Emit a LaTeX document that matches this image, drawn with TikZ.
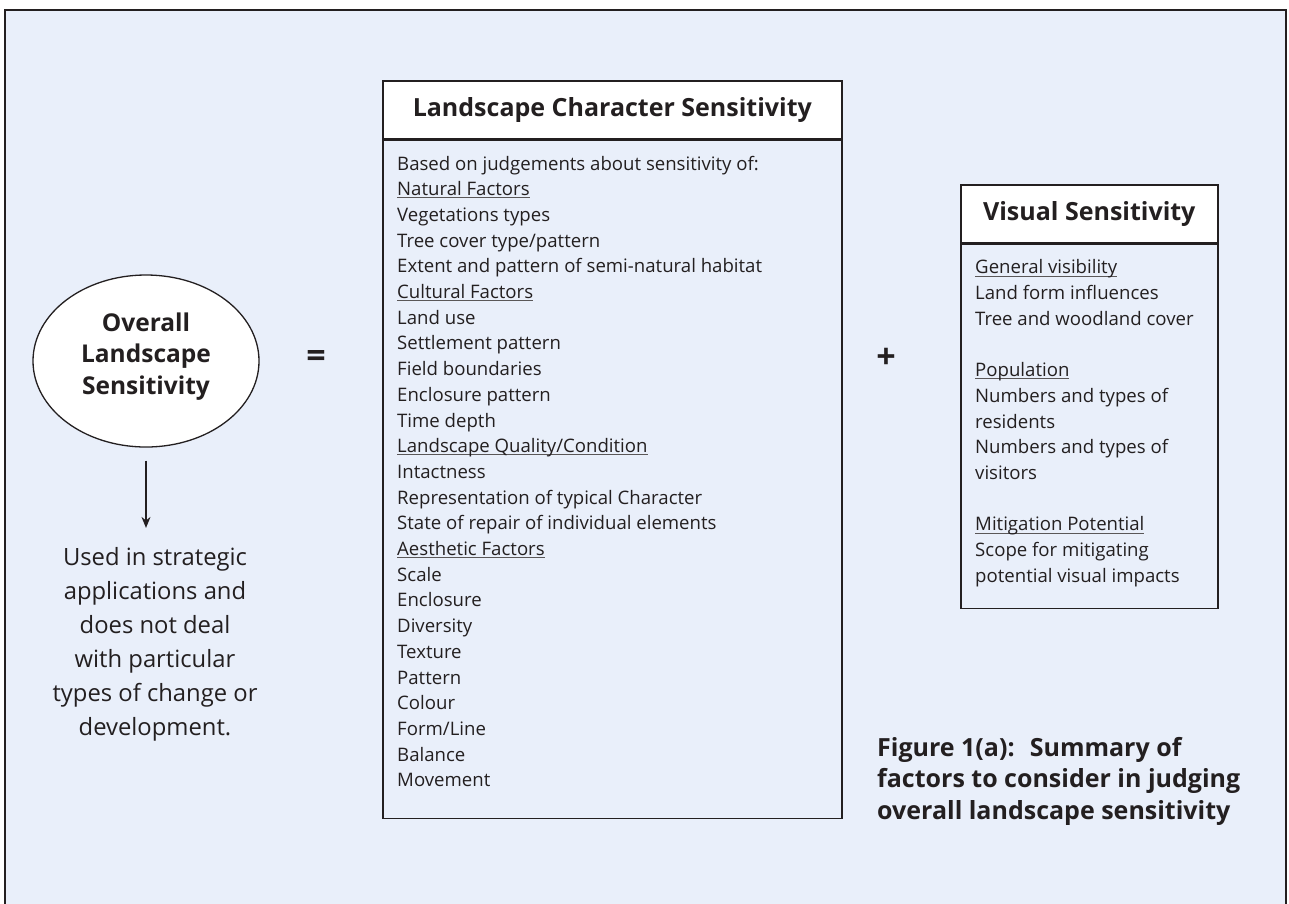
\documentclass[tikz,border=0pt]{standalone}
\usepackage{fontspec}
\setmainfont{Open Sans}
\usetikzlibrary{positioning,shapes.geometric,arrows.meta}

\definecolor{panelblue}{HTML}{E9EFFA}
\definecolor{ink}{HTML}{231F20}
% underlined factor heading, rule at a fixed depth
\newcommand{\factorhead}[1]{\setbox0\hbox{#1}\rlap{\textcolor{ink!75}{\rule[-2.6pt]{\wd0}{0.9pt}}}\box0}

\begin{document}
\begin{tikzpicture}[x=1pt,y=-1pt,
    headbox/.style={draw=ink, line width=1.6pt, fill=white, text=ink, inner sep=0pt,
        font=\bfseries\fontsize{25}{28}\selectfont},
    bodybox/.style={draw=ink, line width=1.6pt, fill=panelblue, inner sep=0pt},
    listtext/.style={font=\fontsize{18.6}{25.7}\selectfont, text=ink, align=left,
        anchor=north west, inner sep=0pt},
    ovalnode/.style={ellipse, draw=ink, line width=1.3pt, fill=white, text=ink,
        minimum width=226pt, minimum height=172pt, align=center, inner sep=0pt,
        font=\bfseries\fontsize{24.5}{31.5}\selectfont},
    signnode/.style={text=ink, font=\bfseries\fontsize{34}{36}\selectfont, inner sep=0pt},
    pointer/.style={-{Stealth[length=11pt,width=9pt]}, line width=1.3pt, draw=ink}]

\useasboundingbox (0,0) rectangle (1289,903);
\draw[draw=ink, line width=2pt, fill=panelblue] (5,10) rectangle (1286,940);

% left: overall sensitivity
\node[ovalnode] (overall) at (146,361) {Overall\\Landscape\\Sensitivity\\[-16pt]\mbox{}};
\node[text=ink, align=center, inner sep=0pt, font=\fontsize{23.8}{34}\selectfont]
    (usage) at (155,644) {Used in strategic\\applications and\\does not deal\\with particular\\types of change or\\development.};
\draw[pointer, shorten <=13pt, shorten >=19pt] (overall.south) -- (overall.south |- usage.north);

\node[signnode] (equals) at (316,359) {=};
\node[signnode] (plus) at (886,358) {+};

% landscape character sensitivity
\node[headbox, minimum width=459pt, minimum height=58pt, anchor=north west]
    (lcshead) at (382,80) {Landscape Character Sensitivity};
\node[bodybox, minimum width=459pt, minimum height=678pt, below=0pt of lcshead] (lcsbody) {};
\node[listtext] (lcslist) at ([xshift=15pt,yshift=-16pt]lcsbody.north west) {%
    Based on judgements about sensitivity of:\\
    \factorhead{Natural Factors}\\
    Vegetations types\\
    Tree cover type/pattern\\
    Extent and pattern of semi-natural habitat\\
    \factorhead{Cultural Factors}\\
    Land use\\
    Settlement pattern\\
    Field boundaries\\
    Enclosure pattern\\
    Time depth\\
    \factorhead{Landscape Quality/Condition}\\
    Intactness\\
    Representation of typical Character\\
    State of repair of individual elements\\
    \factorhead{Aesthetic Factors}\\
    Scale\\
    Enclosure\\
    Diversity\\
    Texture\\
    Pattern\\
    Colour\\
    Form/Line\\
    Balance\\
    Movement};

% visual sensitivity
\node[headbox, minimum width=257pt, minimum height=58pt, anchor=north west]
    (vishead) at (960,184) {Visual Sensitivity};
\node[bodybox, minimum width=257pt, minimum height=364pt, below=0pt of vishead] (visbody) {};
\node[listtext] (vislist) at ([xshift=15pt,yshift=-16pt]visbody.north west) {%
    \factorhead{General visibility}\\
    Land form influences\\
    Tree and woodland cover\\[25.7pt]
    \factorhead{Population}\\
    Numbers and types of\\
    residents\\
    Numbers and types of\\
    visitors\\[25.7pt]
    \factorhead{Mitigation Potential}\\
    Scope for mitigating\\
    potential visual impacts};

% caption
\node[text=ink, align=left, anchor=north west, inner sep=0pt,
    font=\bfseries\fontsize{25}{31.5}\selectfont] (caption) at (877,737)
    {Figure 1(a): \ Summary of\\factors to consider in judging\\overall landscape sensitivity};
\end{tikzpicture}
\end{document}
